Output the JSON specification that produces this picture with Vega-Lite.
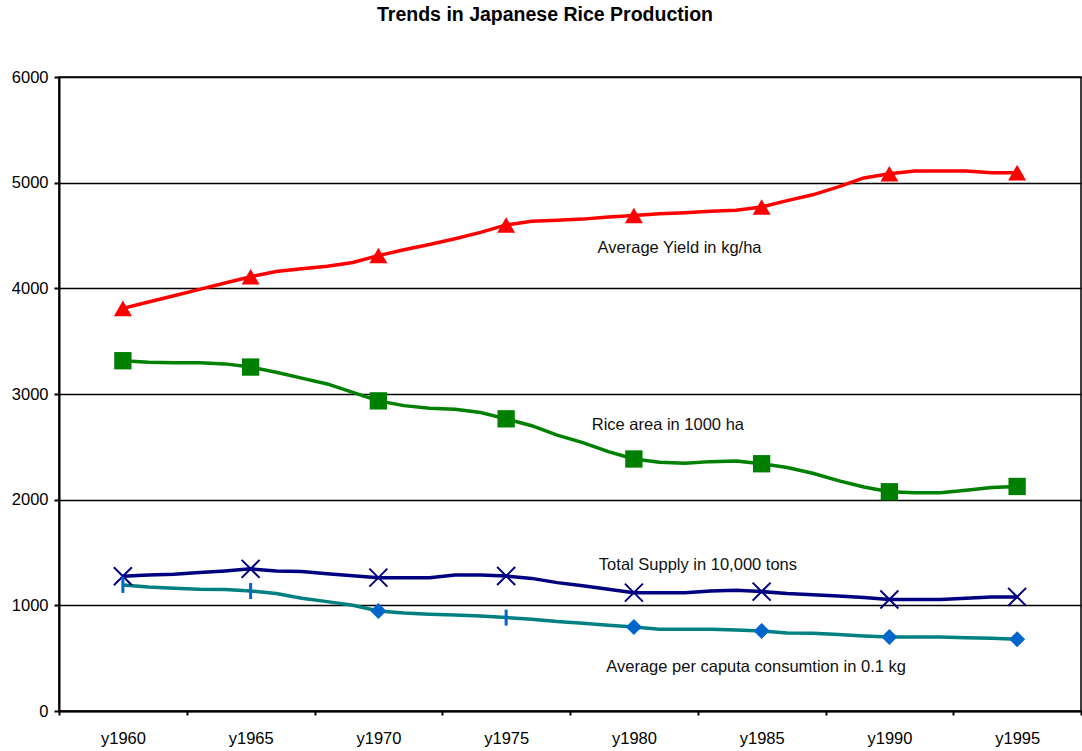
{
  "$schema": "https://vega.github.io/schema/vega-lite/v6.json",
  "width": 1022,
  "height": 634,
  "autosize": {"type": "none"},
  "padding": {"left": 59, "top": 77, "right": 1, "bottom": 40},
  "background": "white",
  "title": {
    "text": "Trends in Japanese Rice Production",
    "font": "Liberation Sans",
    "fontSize": 19.5,
    "fontWeight": "bold",
    "color": "#000",
    "anchor": "middle",
    "frame": "group",
    "dx": -25,
    "offset": 44
  },
  "config": {
    "view": {"stroke": "#000", "strokeWidth": 1.5},
    "font": "Liberation Sans",
    "axis": {
      "labelFont": "Liberation Sans",
      "labelFontSize": 16.5,
      "labelColor": "#000",
      "domainColor": "#000",
      "domainWidth": 2,
      "tickColor": "#000",
      "tickWidth": 2
    }
  },
  "datasets": {
    "rice": [
      {"series": "yield", "year": 1960, "value": 3810},
      {"series": "yield", "year": 1961, "value": 3870},
      {"series": "yield", "year": 1962, "value": 3930},
      {"series": "yield", "year": 1963, "value": 3990},
      {"series": "yield", "year": 1964, "value": 4050},
      {"series": "yield", "year": 1965, "value": 4110},
      {"series": "yield", "year": 1966, "value": 4160},
      {"series": "yield", "year": 1967, "value": 4185},
      {"series": "yield", "year": 1968, "value": 4210},
      {"series": "yield", "year": 1969, "value": 4245},
      {"series": "yield", "year": 1970, "value": 4310},
      {"series": "yield", "year": 1971, "value": 4365},
      {"series": "yield", "year": 1972, "value": 4415},
      {"series": "yield", "year": 1973, "value": 4470},
      {"series": "yield", "year": 1974, "value": 4530},
      {"series": "yield", "year": 1975, "value": 4600},
      {"series": "yield", "year": 1976, "value": 4635},
      {"series": "yield", "year": 1977, "value": 4645},
      {"series": "yield", "year": 1978, "value": 4655},
      {"series": "yield", "year": 1979, "value": 4675},
      {"series": "yield", "year": 1980, "value": 4690},
      {"series": "yield", "year": 1981, "value": 4705},
      {"series": "yield", "year": 1982, "value": 4715},
      {"series": "yield", "year": 1983, "value": 4730},
      {"series": "yield", "year": 1984, "value": 4740},
      {"series": "yield", "year": 1985, "value": 4770},
      {"series": "yield", "year": 1986, "value": 4830},
      {"series": "yield", "year": 1987, "value": 4885},
      {"series": "yield", "year": 1988, "value": 4960},
      {"series": "yield", "year": 1989, "value": 5045},
      {"series": "yield", "year": 1990, "value": 5085},
      {"series": "yield", "year": 1991, "value": 5110},
      {"series": "yield", "year": 1992, "value": 5110},
      {"series": "yield", "year": 1993, "value": 5110},
      {"series": "yield", "year": 1994, "value": 5095},
      {"series": "yield", "year": 1995, "value": 5095},

      {"series": "area", "year": 1960, "value": 3315},
      {"series": "area", "year": 1961, "value": 3300},
      {"series": "area", "year": 1962, "value": 3295},
      {"series": "area", "year": 1963, "value": 3295},
      {"series": "area", "year": 1964, "value": 3285},
      {"series": "area", "year": 1965, "value": 3255},
      {"series": "area", "year": 1966, "value": 3205},
      {"series": "area", "year": 1967, "value": 3150},
      {"series": "area", "year": 1968, "value": 3095},
      {"series": "area", "year": 1969, "value": 3015},
      {"series": "area", "year": 1970, "value": 2935},
      {"series": "area", "year": 1971, "value": 2890},
      {"series": "area", "year": 1972, "value": 2865},
      {"series": "area", "year": 1973, "value": 2855},
      {"series": "area", "year": 1974, "value": 2825},
      {"series": "area", "year": 1975, "value": 2765},
      {"series": "area", "year": 1976, "value": 2700},
      {"series": "area", "year": 1977, "value": 2610},
      {"series": "area", "year": 1978, "value": 2540},
      {"series": "area", "year": 1979, "value": 2455},
      {"series": "area", "year": 1980, "value": 2385},
      {"series": "area", "year": 1981, "value": 2355},
      {"series": "area", "year": 1982, "value": 2345},
      {"series": "area", "year": 1983, "value": 2360},
      {"series": "area", "year": 1984, "value": 2365},
      {"series": "area", "year": 1985, "value": 2340},
      {"series": "area", "year": 1986, "value": 2305},
      {"series": "area", "year": 1987, "value": 2250},
      {"series": "area", "year": 1988, "value": 2180},
      {"series": "area", "year": 1989, "value": 2120},
      {"series": "area", "year": 1990, "value": 2075},
      {"series": "area", "year": 1991, "value": 2065},
      {"series": "area", "year": 1992, "value": 2065},
      {"series": "area", "year": 1993, "value": 2090},
      {"series": "area", "year": 1994, "value": 2115},
      {"series": "area", "year": 1995, "value": 2125},

      {"series": "supply", "year": 1960, "value": 1275},
      {"series": "supply", "year": 1961, "value": 1288},
      {"series": "supply", "year": 1962, "value": 1295},
      {"series": "supply", "year": 1963, "value": 1310},
      {"series": "supply", "year": 1964, "value": 1325},
      {"series": "supply", "year": 1965, "value": 1345},
      {"series": "supply", "year": 1966, "value": 1325},
      {"series": "supply", "year": 1967, "value": 1320},
      {"series": "supply", "year": 1968, "value": 1300},
      {"series": "supply", "year": 1969, "value": 1280},
      {"series": "supply", "year": 1970, "value": 1262},
      {"series": "supply", "year": 1971, "value": 1262},
      {"series": "supply", "year": 1972, "value": 1262},
      {"series": "supply", "year": 1973, "value": 1288},
      {"series": "supply", "year": 1974, "value": 1288},
      {"series": "supply", "year": 1975, "value": 1278},
      {"series": "supply", "year": 1976, "value": 1255},
      {"series": "supply", "year": 1977, "value": 1215},
      {"series": "supply", "year": 1978, "value": 1185},
      {"series": "supply", "year": 1979, "value": 1152},
      {"series": "supply", "year": 1980, "value": 1120},
      {"series": "supply", "year": 1981, "value": 1120},
      {"series": "supply", "year": 1982, "value": 1120},
      {"series": "supply", "year": 1983, "value": 1136},
      {"series": "supply", "year": 1984, "value": 1143},
      {"series": "supply", "year": 1985, "value": 1130},
      {"series": "supply", "year": 1986, "value": 1111},
      {"series": "supply", "year": 1987, "value": 1099},
      {"series": "supply", "year": 1988, "value": 1089},
      {"series": "supply", "year": 1989, "value": 1073},
      {"series": "supply", "year": 1990, "value": 1055},
      {"series": "supply", "year": 1991, "value": 1055},
      {"series": "supply", "year": 1992, "value": 1055},
      {"series": "supply", "year": 1993, "value": 1067},
      {"series": "supply", "year": 1994, "value": 1080},
      {"series": "supply", "year": 1995, "value": 1080},

      {"series": "consumption", "year": 1960, "value": 1193},
      {"series": "consumption", "year": 1961, "value": 1174},
      {"series": "consumption", "year": 1962, "value": 1162},
      {"series": "consumption", "year": 1963, "value": 1152},
      {"series": "consumption", "year": 1964, "value": 1150},
      {"series": "consumption", "year": 1965, "value": 1136},
      {"series": "consumption", "year": 1966, "value": 1111},
      {"series": "consumption", "year": 1967, "value": 1067},
      {"series": "consumption", "year": 1968, "value": 1035},
      {"series": "consumption", "year": 1969, "value": 1001},
      {"series": "consumption", "year": 1970, "value": 947},
      {"series": "consumption", "year": 1971, "value": 928},
      {"series": "consumption", "year": 1972, "value": 916},
      {"series": "consumption", "year": 1973, "value": 909},
      {"series": "consumption", "year": 1974, "value": 900},
      {"series": "consumption", "year": 1975, "value": 884},
      {"series": "consumption", "year": 1976, "value": 868},
      {"series": "consumption", "year": 1977, "value": 846},
      {"series": "consumption", "year": 1978, "value": 830},
      {"series": "consumption", "year": 1979, "value": 812},
      {"series": "consumption", "year": 1980, "value": 795},
      {"series": "consumption", "year": 1981, "value": 774},
      {"series": "consumption", "year": 1982, "value": 774},
      {"series": "consumption", "year": 1983, "value": 774},
      {"series": "consumption", "year": 1984, "value": 767},
      {"series": "consumption", "year": 1985, "value": 758},
      {"series": "consumption", "year": 1986, "value": 739},
      {"series": "consumption", "year": 1987, "value": 736},
      {"series": "consumption", "year": 1988, "value": 723},
      {"series": "consumption", "year": 1989, "value": 710},
      {"series": "consumption", "year": 1990, "value": 701},
      {"series": "consumption", "year": 1991, "value": 701},
      {"series": "consumption", "year": 1992, "value": 701},
      {"series": "consumption", "year": 1993, "value": 694},
      {"series": "consumption", "year": 1994, "value": 688},
      {"series": "consumption", "year": 1995, "value": 679}
    ],
    "notes": [
      {"label": "Average Yield in kg/ha", "year": 1978.58, "value": 4334},
      {"label": "Rice area in 1000 ha", "year": 1978.35, "value": 2664},
      {"label": "Total Supply in 10,000 tons", "year": 1978.63, "value": 1331},
      {"label": "Average per caputa consumtion in 0.1 kg", "year": 1978.92, "value": 370}
    ]
  },
  "data": {"name": "rice"},
  "encoding": {
    "x": {
      "field": "year",
      "type": "quantitative",
      "scale": {"domain": [1957.5, 1997.5], "nice": false, "zero": false},
      "axis": {
        "title": null,
        "grid": false,
        "values": [1957.5, 1962.5, 1967.5, 1972.5, 1977.5, 1982.5, 1987.5, 1992.5, 1997.5],
        "labelExpr": "datum.value < 1995 ? 'y' + (datum.value + 2.5) : ''",
        "labelOffset": 64,
        "labelFlush": false,
        "labelOverlap": false,
        "labelBound": false,
        "tickSize": 4,
        "labelPadding": 15
      }
    },
    "y": {
      "field": "value",
      "type": "quantitative",
      "scale": {"domain": [0, 6000], "nice": false},
      "axis": {
        "title": null,
        "values": [0, 1000, 2000, 3000, 4000, 5000, 6000],
        "format": "d",
        "grid": true,
        "gridColor": "#000",
        "gridWidth": 1.5,
        "gridOpacity": 1,
        "tickSize": 5,
        "labelPadding": 6
      }
    }
  },
  "layer": [
    {
      "mark": {"type": "line", "strokeWidth": 3.5},
      "encoding": {
        "color": {
          "field": "series",
          "type": "nominal",
          "scale": {
            "domain": ["yield", "area", "supply", "consumption"],
            "range": ["#FF0000", "#008000", "#000080", "#008080"]
          },
          "legend": null
        }
      }
    },
    {
      "transform": [{"filter": "datum.series == 'yield' && datum.year % 5 == 0"}],
      "mark": {"type": "point", "shape": "triangle-up", "size": 324, "filled": true, "color": "#FF0000", "opacity": 1}
    },
    {
      "transform": [{"filter": "datum.series == 'area' && datum.year % 5 == 0"}],
      "mark": {"type": "point", "shape": "square", "size": 300, "filled": true, "color": "#008000", "opacity": 1}
    },
    {
      "transform": [{"filter": "datum.series == 'supply' && datum.year % 5 == 0"}],
      "mark": {"type": "point", "shape": "M-1,-1L1,1M1,-1L-1,1", "size": 324, "filled": false, "stroke": "#000080", "strokeWidth": 2, "opacity": 1}
    },
    {
      "transform": [{"filter": "datum.series == 'consumption' && (datum.year == 1970 || datum.year == 1980 || datum.year == 1985 || datum.year == 1990 || datum.year == 1995)"}],
      "mark": {"type": "point", "shape": "diamond", "size": 256, "filled": true, "color": "#0066CC", "opacity": 1}
    },
    {
      "transform": [{"filter": "datum.series == 'consumption' && (datum.year == 1960 || datum.year == 1965 || datum.year == 1975)"}],
      "mark": {"type": "point", "shape": "M0,-1L0,1", "size": 256, "filled": false, "stroke": "#0066CC", "strokeWidth": 3, "opacity": 1}
    },
    {
      "data": {"name": "notes"},
      "mark": {"type": "text", "align": "left", "baseline": "alphabetic", "font": "Liberation Sans", "fontSize": 16.5, "color": "#111"},
      "encoding": {"text": {"field": "label", "type": "nominal"}}
    }
  ]
}
